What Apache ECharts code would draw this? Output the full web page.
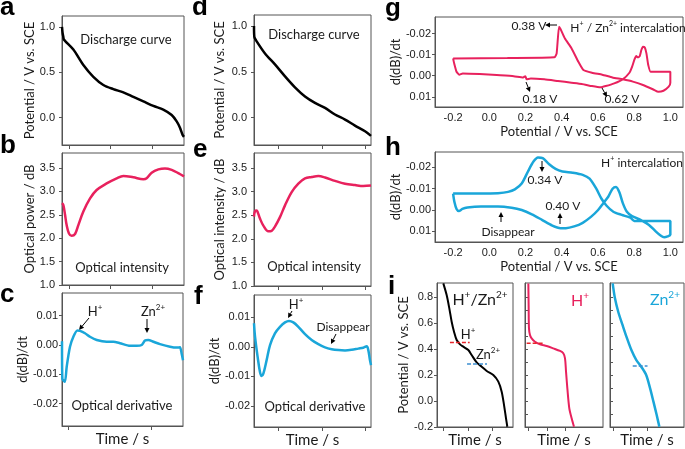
<!DOCTYPE html>
<html><head><meta charset="utf-8">
<script src="https://cdn.jsdelivr.net/npm/echarts@6/dist/echarts.min.js"></script>
<style>html,body{margin:0;padding:0;background:#fff}#c{width:685px;height:449px}</style>
</head><body><div id="c"></div>
<script>
// ---------------- DATA ----------------
// panel a: discharge curve (H+/Zn2+)
const aTime = [0, 0.5, 1.1, 1.6, 9.3, 17.5, 25.7, 33.9, 42, 50.3, 58.5, 66.7, 74.9, 83, 89.9, 94, 96.7, 98.9, 100];
const aPotential = [1.0, 0.93, 0.89, 0.86, 0.75, 0.58, 0.45, 0.36, 0.315, 0.28, 0.23, 0.18, 0.13, 0.09, 0.03, -0.04, -0.11, -0.19, -0.21];
// panel b: optical power
const bTime = [0, 1.1, 2.5, 3.8, 5.7, 7.9, 10.7, 13.4, 17.5, 23, 28.4, 36.6, 44.8, 50.3, 58.5, 66.7, 69.4, 73.5, 79, 84.4, 89.9, 95.3, 100];
const bPower = [2.75, 2.71, 2.50, 2.28, 2.10, 2.05, 2.09, 2.28, 2.57, 2.85, 3.03, 3.17, 3.28, 3.33, 3.30, 3.26, 3.28, 3.40, 3.47, 3.49, 3.46, 3.39, 3.32];
// panel c: optical derivative
const cTime = [0, 0.3, 1.5, 2.5, 3.9, 6.6, 9.4, 12.7, 14.9, 19, 23.1, 28.7, 36.9, 42.4, 47.9, 56.2, 61.7, 65.9, 68.6, 71.3, 75.5, 81, 89.3, 94.8, 97.5, 98.9, 100];
const cDeriv = [0.0013, -0.0115, -0.0122, -0.0125, -0.0074, -0.0006, 0.0028, 0.0049, 0.0048, 0.0040, 0.0028, 0.0017, 0.0011, 0.0011, 0.0006, -0.0003, -0.0003, 0.0000, 0.0015, 0.0017, 0.0011, 0.0003, -0.0006, -0.0009, -0.0008, -0.0030, -0.0052];
// panel d: discharge curve (H+)
const dTime = [0, 0.3, 1.4, 9.4, 17.9, 26.5, 35, 43.6, 52.1, 60.7, 69.2, 77.8, 86.3, 94.9, 100];
const dPotential = [1.0, 0.88, 0.85, 0.70, 0.58, 0.45, 0.33, 0.23, 0.16, 0.105, 0.033, -0.022, -0.088, -0.15, -0.2];
// panel e: optical intensity
const eTime = [0, 0.9, 2.3, 3.1, 5.1, 8, 12.2, 15.1, 17.9, 22.2, 26.5, 32.2, 37.9, 43.6, 49.3, 55, 60.7, 69.2, 77.8, 86.3, 93.4, 100];
const eIntensity = [2.47, 2.59, 2.60, 2.57, 2.43, 2.28, 2.16, 2.17, 2.26, 2.46, 2.71, 2.99, 3.17, 3.28, 3.31, 3.33, 3.30, 3.23, 3.17, 3.14, 3.12, 3.13];
// panel f: optical derivative
const fTime = [0, 0.9, 3.1, 5.1, 6.5, 8, 10.8, 13.7, 17.9, 22.2, 26.5, 29.9, 33.6, 37.9, 43.6, 49.3, 55, 60.7, 66.4, 72.1, 77.8, 83.5, 89.1, 93.4, 96.3, 97.7, 99.1, 100];
const fDeriv = [0.0080, 0.0034, -0.0034, -0.0085, -0.0099, -0.0091, -0.0045, 0.0006, 0.0046, 0.0068, 0.0083, 0.0088, 0.0083, 0.0068, 0.0043, 0.0023, 0.0009, -0.0002, -0.0008, -0.0011, -0.0012, -0.0010, -0.0006, -0.0003, 0.0002, -0.0011, -0.0045, -0.0062];
// panel g: CV-like loop, H+/Zn2+
const gPotential = [-0.2, 0.100, 0.360, 0.372, 0.385, 0.394, 0.417, 0.454, 0.492, 0.520, 0.567, 0.624, 0.680, 0.737, 0.793, 0.849, 0.906, 0.934, 0.962, 0.991, 1.0, 1.0, 1.0, 0.891, 0.878, 0.868, 0.859, 0.849, 0.840, 0.831, 0.821, 0.812, 0.802, 0.789, 0.774, 0.737, 0.690, 0.643, 0.614, 0.567, 0.511, 0.454, 0.379, 0.304, 0.229, 0.206, 0.199, 0.187, 0.135, 0.041, -0.053, -0.147, -0.166, -0.181, -0.194, -0.2];
const gDeriv = [-0.0082, -0.0084, -0.0087, -0.0106, -0.0232, -0.0220, -0.0177, -0.0130, -0.0066, -0.0027, -0.0014, -0.0005, 0.0008, 0.0017, 0.0028, 0.0044, 0.0065, 0.0076, 0.0071, 0.0052, 0.0033, 0.0002, -0.0019, -0.0019, -0.0051, -0.0106, -0.0134, -0.0137, -0.0122, -0.0093, -0.0087, -0.0093, -0.0077, -0.0043, -0.0014, 0.0017, 0.0036, 0.0049, 0.0055, 0.0049, 0.0039, 0.0033, 0.0025, 0.0017, 0.0013, 0.0017, 0.0002, 0.0008, 0.0002, -0.0003, -0.0008, -0.0011, -0.0005, -0.0019, -0.0058, -0.0082];
// panel h: CV-like loop, H+
const hPotential = [-0.2, -0.046, 0.048, 0.104, 0.141, 0.179, 0.216, 0.244, 0.269, 0.295, 0.329, 0.366, 0.404, 0.460, 0.516, 0.554, 0.591, 0.619, 0.648, 0.685, 0.732, 0.779, 0.801, 0.891, 1.0, 1.0, 1.0, 0.985, 0.966, 0.948, 0.919, 0.882, 0.835, 0.788, 0.760, 0.738, 0.719, 0.700, 0.681, 0.657, 0.629, 0.601, 0.563, 0.516, 0.469, 0.423, 0.394, 0.348, 0.291, 0.235, 0.179, 0.123, 0.048, -0.046, -0.121, -0.149, -0.168, -0.181, -0.193, -0.2];
const hDeriv = [-0.0077, -0.0077, -0.0079, -0.0085, -0.0097, -0.0124, -0.0185, -0.0227, -0.0246, -0.0243, -0.0216, -0.0193, -0.0181, -0.0175, -0.0165, -0.0147, -0.0100, -0.0054, -0.0020, 0.0008, 0.0023, 0.0036, 0.0051, 0.0051, 0.0051, 0.0077, 0.0116, 0.0124, 0.0128, 0.0121, 0.0100, 0.0070, 0.0046, 0.0028, 0.0008, -0.0031, -0.0082, -0.0108, -0.0100, -0.0062, -0.0031, 0.0000, 0.0031, 0.0060, 0.0077, 0.0085, 0.0085, 0.0073, 0.0046, 0.0020, 0.0000, -0.0011, -0.0017, -0.0017, -0.0012, -0.0005, 0.0005, -0.0005, -0.0039, -0.0077];
// panel i: discharge curves
const i1Time = [8.3, 12.7, 16.2, 19.3, 22.4, 25.9, 30.3, 34.6, 41.2, 45.6, 52.2, 58.8, 65.4, 74.1, 80.7, 85.1, 88.2, 90.8, 92.5];
const i1Potential = [0.905, 0.815, 0.713, 0.61, 0.533, 0.469, 0.436, 0.418, 0.392, 0.354, 0.297, 0.264, 0.231, 0.2, 0.149, 0.072, -0.031, -0.133, -0.198];
const i2Time = [4.3, 4.7, 5.1, 6.4, 8.5, 12.8, 19.2, 27.8, 36.3, 44.9, 49.1, 51.3, 52.6, 54.3, 56.8, 59.8, 62.8];
const i2Potential = [0.905, 0.713, 0.559, 0.508, 0.482, 0.456, 0.436, 0.423, 0.405, 0.385, 0.367, 0.328, 0.226, 0.097, -0.056, -0.133, -0.198];
const i3Time = [3.6, 6.7, 11.1, 16.9, 22.2, 28.9, 35.6, 42.2, 48.9, 54.2, 58.7, 63.1, 66.7];
const i3Potential = [0.905, 0.79, 0.687, 0.585, 0.495, 0.392, 0.315, 0.264, 0.2, 0.097, -0.005, -0.108, -0.198];
// dashed plateau markers in panel i
const i1RefHTime = [17, 43], i1RefHPotential = [0.45, 0.45];
const i1RefZnTime = [39.5, 65.8], i1RefZnPotential = [0.285, 0.285];
const i2RefHTime = [2.1, 23.5], i2RefHPotential = [0.445, 0.445];
const i3RefZnTime = [30.7, 50.7], i3RefZnPotential = [0.27, 0.27];
// tick values
const timeTicksABC = [5.7, 39.3, 73.8];
const timeTicksC = [5.0, 73.8];
const timeTicksDEF = [20.5, 58.1, 94.9];
const timeTicksI1 = [7.9, 40.8, 72.4];
const timeTicksI2 = [3.8, 28.2, 51.3];
const timeTicksI3 = [4, 26.7, 50.7];
const potentialTicks = [0, 0.5, 1.0];
const opticalTicks = [1.0, 1.5, 2.0, 2.5, 3.0, 3.5];
const derivTicks = [-0.02, -0.01, 0.0, 0.01];
const cvXTicks = [-0.2, 0.0, 0.2, 0.4, 0.6, 0.8, 1.0];
const iPotTicks = [-0.2, 0.0, 0.2, 0.4, 0.6, 0.8];
const iMinorTicks = [-0.1, 0.0, 0.1, 0.2, 0.3, 0.4, 0.5, 0.6, 0.7, 0.8];

// ---------------- STYLE / LAYOUT ----------------
const AX = '#555', TXT = '#1a1a1a';
const PINK = '#e8215d', CYAN = '#1aa6d9', BLACK = '#000';
const TF = 'Liberation Sans', LF = 'Lato';
const gridBoxes = [
  [62, 16, 122, 129], [62, 153, 122, 132], [62, 293, 121, 133],
  [254, 15, 117, 130], [254, 153, 117, 133], [254, 295, 117, 132],
  [435, 17, 248, 90], [435, 152, 248, 90],
  [437, 283, 76, 144], [525, 283, 78, 144], [610, 283, 74, 144]
];
const grids = gridBoxes.map(g => ({left: g[0], top: g[1], width: g[2], height: g[3], show: true, borderColor: AX, borderWidth: 1}));

const pairs = (xs, ys) => xs.map((x, k) => [x, ys[k]]);
const nameStyle = (fs) => ({fontFamily: LF, fontSize: fs, color: TXT});
const labelStyle = {fontFamily: TF, fontSize: 11, color: TXT, margin: 4};

function xTime(gi, ticks, name) {
  return {type: 'value', gridIndex: gi, min: 0, max: 100,
    axisLine: {onZero: false, lineStyle: {color: AX}},
    axisTick: {show: true, customValues: ticks, length: 4, lineStyle: {color: AX}},
    axisLabel: {show: false}, splitLine: {show: false},
    name: name || '', nameLocation: 'middle', nameGap: 6, nameTextStyle: nameStyle(15)};
}
function xCV(gi) {
  return {type: 'value', gridIndex: gi, min: -0.3, max: 1.07,
    axisLine: {onZero: false, lineStyle: {color: AX}},
    axisTick: {show: false},
    axisLabel: Object.assign({customValues: cvXTicks, formatter: v => v.toFixed(1)}, labelStyle, {margin: 5}),
    splitLine: {show: false},
    name: 'Potential / V vs. SCE', nameLocation: 'middle', nameGap: 18, nameTextStyle: nameStyle(13)};
}
// y axis; drawLabels=false -> labels are placed as text at the axis' own pixel positions (see below)
function yVal(gi, min, max, ticks, dec, name, gap, drawLabels, extra) {
  return Object.assign({type: 'value', gridIndex: gi, min: min, max: max,
    axisLine: {onZero: false, lineStyle: {color: AX}},
    axisTick: {show: true, customValues: ticks, length: 3, lineStyle: {color: AX}},
    axisLabel: drawLabels ? Object.assign({customValues: ticks, formatter: v => v.toFixed(dec)}, labelStyle) : {show: false},
    splitLine: {show: false},
    name: name, nameLocation: 'middle', nameGap: gap, nameTextStyle: nameStyle(13)}, extra || {});
}
function yInner(gi) {
  return {type: 'value', gridIndex: gi, min: -0.2, max: 0.908,
    axisLine: {onZero: false, lineStyle: {color: AX}},
    axisTick: {show: true, inside: true, customValues: iMinorTicks, length: 3, lineStyle: {color: AX}},
    axisLabel: {show: false}, splitLine: {show: false}};
}
function line(xi, xs, ys, color, width, smooth, dashed) {
  return {type: 'line', xAxisIndex: xi, yAxisIndex: xi, data: pairs(xs, ys), showSymbol: false,
    smooth: smooth, lineStyle: {color: color, width: width, type: dashed ? [4, 2] : 'solid'},
    itemStyle: {color: color}, silent: true};
}

// ---------------- ANNOTATIONS ----------------
const gfx = [];
function txt(x, y, text, size, color, font, align) {
  gfx.push({type: 'text', x: x, y: y, silent: true,
    style: {text: text, fill: color || TXT, font: size + 'px ' + (font || LF), align: align || 'center', verticalAlign: 'middle'}});
}
function rich(x, y, text, size, color) {
  gfx.push({type: 'text', x: x, y: y, silent: true,
    style: {text: text, align: 'center', verticalAlign: 'middle',
      rich: {b: {fontSize: size, fontFamily: LF, fill: color || TXT, lineHeight: size + 4},
             s: {fontSize: Math.round(size * 0.62), fontFamily: LF, fill: color || TXT, verticalAlign: 'top'}}}});
}
function letter(x, y, t) {
  gfx.push({type: 'text', x: x, y: y, silent: true,
    style: {text: t, fill: '#000', font: 'bold 26px "Liberation Sans"', align: 'left', verticalAlign: 'middle'}});
}
function arrow(x1, y1, x2, y2) {
  const a = Math.atan2(y2 - y1, x2 - x1), L = 5, W = 2.5;
  const bx = x2 - L * Math.cos(a), by = y2 - L * Math.sin(a);
  gfx.push({type: 'line', silent: true, shape: {x1: x1, y1: y1, x2: bx, y2: by}, style: {stroke: '#000', lineWidth: 1}});
  gfx.push({type: 'polygon', silent: true, shape: {points: [[x2, y2], [bx + W * Math.sin(a), by - W * Math.cos(a)], [bx - W * Math.sin(a), by + W * Math.cos(a)]]}, style: {fill: '#000'}});
}
letter(0, 8, 'a'); letter(0, 146, 'b'); letter(0, 295, 'c');
letter(192, 8, 'd'); letter(193, 150, 'e'); letter(194, 297, 'f');
letter(385, 9, 'g'); letter(385, 148, 'h'); letter(388, 287, 'i');

txt(126, 40, 'Discharge curve', 13); txt(314, 35, 'Discharge curve', 13);
txt(122, 268, 'Optical intensity', 13); txt(314, 267, 'Optical intensity', 13);
txt(122, 406, 'Optical derivative', 13); txt(315, 407, 'Optical derivative', 13);
rich(95, 312, '{b|H}{s|+}', 13); arrow(89, 318, 79, 330);
rich(153, 312, '{b|Zn}{s|2+}', 13); arrow(147, 319, 147, 333);
rich(296, 305, '{b|H}{s|+}', 13); arrow(292, 311, 288, 318);
txt(343, 327, 'Disappear', 12); arrow(336, 334, 331, 344);

txt(529, 26, '0.38 V', 12); arrow(557, 25, 545, 25);
rich(628, 28, '{b|H}{s|+}{b| / Zn}{s|2+}{b| intercalation}', 12);
txt(540, 99, '0.18 V', 12); arrow(526, 82, 530, 92);
txt(622, 99, '0.62 V', 12); arrow(602, 88, 607, 97);

rich(642, 163, '{b|H}{s|+}{b| intercalation}', 12);
txt(545, 180, '0.34 V', 12); arrow(542, 161, 542, 172);
txt(563, 206, '0.40 V', 12); arrow(560, 224, 560, 213);
txt(508, 232, 'Disappear', 12); arrow(501, 222, 501, 212);

rich(480, 300, '{b|H}{s|+}{b|/Zn}{s|2+}', 16);
rich(468, 335, '{b|H}{s|+}', 13);
rich(488, 355, '{b|Zn}{s|2+}', 13);
rich(580, 301, '{b|H}{s|+}', 16, PINK);
rich(665, 300, '{b|Zn}{s|2+}', 16, CYAN);

// ---------------- OPTION ----------------
const option = {
  animation: false,
  backgroundColor: '#fff',
  grid: grids,
  xAxis: [
    xTime(0, timeTicksABC), xTime(1, timeTicksABC), xTime(2, timeTicksC, 'Time / s'),
    xTime(3, timeTicksDEF), xTime(4, timeTicksDEF), xTime(5, timeTicksDEF, 'Time / s'),
    xCV(6), xCV(7),
    xTime(8, timeTicksI1, 'Time / s'), xTime(9, timeTicksI2, 'Time / s'), xTime(10, timeTicksI3, 'Time / s')
  ],
  yAxis: [
    yVal(0, -0.3, 1.12, potentialTicks, 1, 'Potential / V vs. SCE', 26, false),
    yVal(1, 1.0, 3.82, opticalTicks, 1, 'Optical power / dB', 26, false),
    yVal(2, -0.0276, 0.0177, derivTicks, 2, 'd(dB)/dt', 30, true),
    yVal(3, -0.3, 1.12, potentialTicks, 1, 'Potential / V vs. SCE', 28, false),
    yVal(4, 1.0, 3.82, opticalTicks, 1, 'Optical intensity / dB', 28, false),
    yVal(5, -0.0272, 0.0176, derivTicks, 2, 'd(dB)/dt', 33, true),
    yVal(6, -0.0278, 0.0148, derivTicks, 2, 'd(dB)/dt', 33, true, {inverse: true}),
    yVal(7, -0.0272, 0.0150, derivTicks, 2, 'd(dB)/dt', 33, true, {inverse: true}),
    yVal(8, -0.2, 0.908, iPotTicks, 1, 'Potential / V vs. SCE', 26, true),
    yInner(9), yInner(10)
  ],
  series: [
    line(0, aTime, aPotential, BLACK, 2.5, 0.3),
    line(1, bTime, bPower, PINK, 2.5, 0.35),
    line(2, cTime, cDeriv, CYAN, 2.5, 0.25),
    line(3, dTime, dPotential, BLACK, 2.5, 0.3),
    line(4, eTime, eIntensity, PINK, 2.5, 0.35),
    line(5, fTime, fDeriv, CYAN, 2.5, 0.35),
    line(6, gPotential, gDeriv, PINK, 2, 0.15),
    line(7, hPotential, hDeriv, CYAN, 2.5, 0.25),
    line(8, i1Time, i1Potential, BLACK, 2, 0.3),
    line(8, i1RefHTime, i1RefHPotential, '#e8252a', 1.5, false, true),
    line(8, i1RefZnTime, i1RefZnPotential, '#3d8fd1', 1.5, false, true),
    line(9, i2Time, i2Potential, PINK, 2, 0.3),
    line(9, i2RefHTime, i2RefHPotential, '#e8252a', 1.5, false, true),
    line(10, i3Time, i3Potential, CYAN, 2.5, 0.3),
    line(10, i3RefZnTime, i3RefZnPotential, '#3d8fd1', 1.5, false, true)
  ],
  graphic: gfx
};
const chart = echarts.init(document.getElementById('c'), null, {renderer: 'canvas'});
chart.setOption(option);

// tick labels for axes a, b, d, e: positioned through the axes' own scale
const labelAxes = [[0, potentialTicks, 1], [1, opticalTicks, 1], [3, potentialTicks, 1], [4, opticalTicks, 1]];
labelAxes.forEach(([ai, ticks, dec]) => {
  const left = gridBoxes[ai][0];
  ticks.forEach(v => {
    const py = chart.convertToPixel({yAxisIndex: ai}, v);
    gfx.push({type: 'text', x: left - 7, y: py, silent: true,
      style: {text: v.toFixed(dec), fill: TXT, font: '11px "' + TF + '"', align: 'right', verticalAlign: 'middle'}});
  });
});
chart.setOption({graphic: gfx});
</script></body></html>
